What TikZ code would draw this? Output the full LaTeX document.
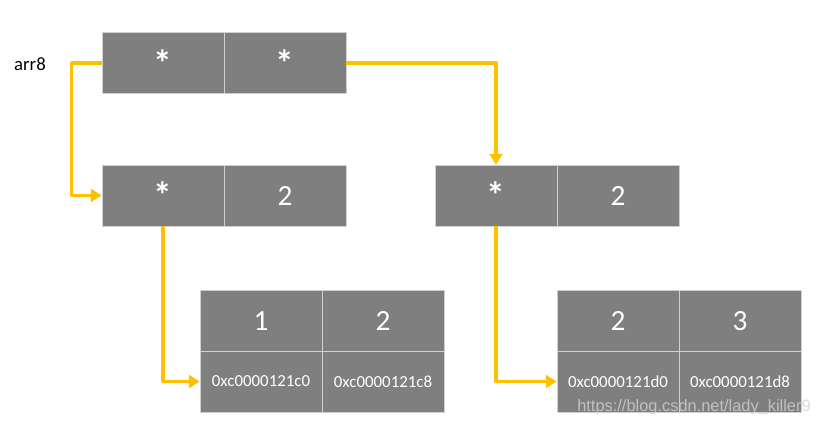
\documentclass[tikz,border=0pt]{standalone}
\usepackage{fontspec}
\setmainfont{Carlito}
\newfontfamily\wmfont{Liberation Sans}
\usetikzlibrary{calc,arrows.meta,positioning}
\definecolor{boxgray}{HTML}{7F7F7F}
\definecolor{cellline}{HTML}{D0D0D0}
\definecolor{gold}{HTML}{FFC000}

\begin{document}
\begin{tikzpicture}[x=0.03cm, y=-0.03cm, >={Triangle[length=0.32cm,width=0.38cm]},
    line join=round,
    cell/.style={draw=cellline, line width=0.6pt, fill=boxgray, text=white,
      minimum width=3.66cm, minimum height=1.83cm, inner sep=0pt, font=\fontsize{25}{25}\selectfont},
    ptr/.style={cell, font=\bfseries\fontsize{32}{32}\selectfont},
    addr/.style={cell, font=\fontsize{14.4}{15}\selectfont},
    link/.style={->, gold, line width=0.1cm}]
    \useasboundingbox (0,0) rectangle (817,429);
    \node (lbl) at (30,64) {\fontsize{16}{16}\selectfont arr8};
    % outer slice
    \node[ptr] (a1) at (163,63) {*};
    \node[ptr] (a2) at (285,63) {*};
    % inner slice headers
    \node[ptr] (b1) at (163,195.5) {*};
    \node[cell] (b2) at (285,195.5) {2};
    \node[ptr] (c1) at (496,195.5) {*};
    \node[cell] (c2) at (618,195.5) {2};
    % backing arrays
    \node[cell] (d1) at (261,321) {1};
    \node[cell] (d2) at (383,321) {2};
    \node[addr] (e1) at (261,381.5) {0xc0000121c0};
    \node[addr] (e2) at (383,381.5) {0xc0000121c8};
    \node[cell] (f1) at (618,321) {2};
    \node[cell] (f2) at (740,321) {3};
    \node[addr] (g1) at (618,381.5) {0xc0000121d0};
    \node[addr] (g2) at (740,381.5) {0xc0000121d8};
    % pointers
    \draw[link] (a1.west) -- ++(-30,0) |- (b1.west);
    \draw[link] (a2.east) -| (c1.north);
    \draw[link] (b1.south) |- (e1.west);
    \draw[link] (c1.south) |- (g1.west);
    \node[text=gray!35, opacity=0.8] (wm) at (694,407) {\wmfont\fontsize{14}{14}\selectfont https://blog.csdn.net/lady\_killer9};
\end{tikzpicture}
\end{document}
